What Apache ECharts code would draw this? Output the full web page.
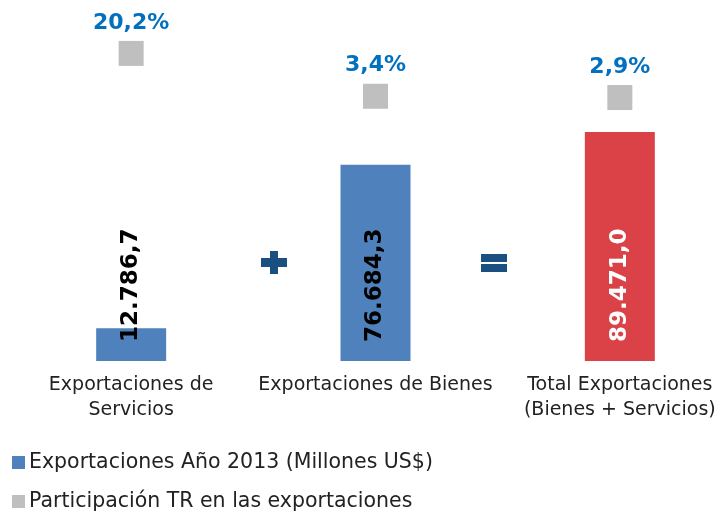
<!DOCTYPE html>
<html>
<head>
<meta charset="utf-8">
<script src="https://cdn.jsdelivr.net/npm/echarts@6/dist/echarts.min.js"></script>
<style>
  html, body { margin: 0; padding: 0; background: #fff; }
  #chart { width: 722px; height: 511px; }
</style>
</head>
<body>
<div id="chart"></div>
<script>
// datos
const categories = ["Exportaciones de\nServicios", "Exportaciones de Bienes", "Total Exportaciones\n(Bienes + Servicios)"];
const exportValues = [12786.7, 76684.3, 89471.0];
const shareValues = [20.2, 3.4, 2.9];
const seriesNames = ["Exportaciones Año 2013 (Millones US$)", "Participación TR en las exportaciones"];
const barColors = ["#4f81bd", "#4f81bd", "#db4248"];
const barLabelColors = ["#000", "#000", "#fff"];

const FONT = "DejaVu Sans";

// formato es: 12.786,7
function fmtNum(v) {
  let parts = v.toFixed(1).split(".");
  parts[0] = parts[0].replace(/\B(?=(\d{3})+(?!\d))/g, ".");
  return parts.join(",");
}

// una leyenda por fila
function legendRow(name, top) {
  return {
    left: 12,
    top: top,
    padding: 0,
    itemWidth: 13,
    itemHeight: 13,
    icon: "rect",
    textStyle: { fontFamily: FONT, fontSize: 20.5, color: "#222", lineHeight: 18, padding: [0, 0, 0, -1] },
    data: [name],
  };
}

let myChart = echarts.init(document.getElementById("chart"));
var option = {
  animation: false,
  legend: [legendRow(seriesNames[0], 452), legendRow(seriesNames[1], 491)],
  grid: { left: 9, top: 20, width: 733, height: 341, outerBoundsMode: "none", containLabel: false },
  xAxis: {
    type: "category",
    data: categories,
    axisLine: { show: false },
    axisTick: { show: false },
    axisLabel: {
      fontFamily: FONT,
      fontSize: 19,
      color: "#222",
      lineHeight: 25,
      margin: 12,
      interval: 0,
    },
  },
  yAxis: [
    { type: "value", min: 0, max: 133229, show: false },
    { type: "value", min: -100.4, max: 33.3, show: false },
  ],
  series: [
    {
      name: seriesNames[0],
      type: "bar",
      barWidth: 70,
      itemStyle: { color: "#4f81bd" },
      label: {
        show: true,
        position: "insideBottom",
        rotate: 90,
        align: "left",
        verticalAlign: "middle",
        distance: 19,
        fontFamily: FONT,
        fontSize: 23,
        fontWeight: "bold",
        formatter: (p) => fmtNum(p.value),
      },
      data: exportValues.map((v, i) => ({
        value: v,
        itemStyle: { color: barColors[i] },
        label: { color: barLabelColors[i] },
      })),
    },
    {
      name: seriesNames[1],
      type: "scatter",
      yAxisIndex: 1,
      symbol: "rect",
      symbolSize: 25,
      itemStyle: { color: "#bfbfbf", opacity: 1 },
      label: {
        show: true,
        position: "top",
        distance: 7,
        fontFamily: FONT,
        fontSize: 22,
        fontWeight: "bold",
        color: "#0070c0",
        formatter: (p) => p.value.toFixed(1).replace(".", ",") + "%",
      },
      data: shareValues,
    },
  ],
  graphic: [
    // signo +
    { type: "rect", shape: { x: 261, y: 258, width: 26, height: 9 }, style: { fill: "#1a5080" } },
    { type: "rect", shape: { x: 270, y: 251, width: 8, height: 23 }, style: { fill: "#1a5080" } },
    // signo =
    { type: "rect", shape: { x: 481, y: 254, width: 26, height: 8 }, style: { fill: "#1a5080" } },
    { type: "rect", shape: { x: 481, y: 264, width: 26, height: 8 }, style: { fill: "#1a5080" } },
  ],
};
myChart.setOption(option);
</script>
</body>
</html>
